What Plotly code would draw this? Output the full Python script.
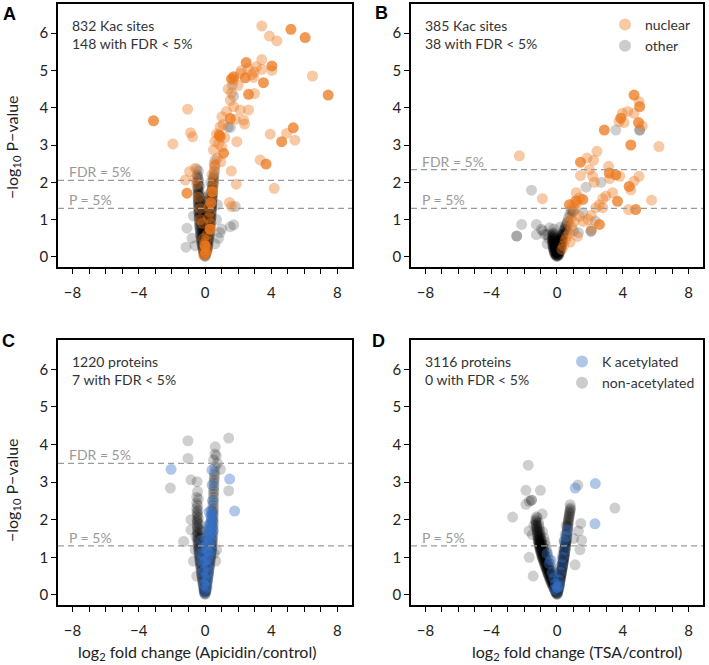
import plotly.graph_objects as go

# ---- panel A: Kac sites, Apicidin ----
a_other = [
    (-0.02, 0.02), (0.03, 0.02), (-0.06, 0.08), (0.05, 0.08), (-0.08, 0.14), (0.02, 0.14), (0.09, 0.14),
    (-0.12, 0.2), (0.0, 0.2), (0.12, 0.2), (-0.14, 0.26), (0.04, 0.26), (0.15, 0.26),
    (-0.17, 0.32), (-0.03, 0.32), (0.16, 0.32), (-0.2, 0.38), (0.05, 0.38), (0.2, 0.38),
    (-0.22, 0.44), (-0.06, 0.44), (0.19, 0.44), (-0.25, 0.5), (0.02, 0.5), (0.23, 0.5),
    (-0.24, 0.56), (-0.08, 0.56), (0.1, 0.56), (0.26, 0.56), (-0.28, 0.62), (0.0, 0.62), (0.27, 0.62),
    (-0.27, 0.68), (-0.1, 0.68), (0.12, 0.68), (0.3, 0.68), (-0.3, 0.74), (0.02, 0.74), (0.29, 0.74),
    (-0.31, 0.8), (-0.12, 0.8), (0.15, 0.8), (0.32, 0.8), (-0.33, 0.86), (0.0, 0.86), (0.31, 0.86),
    (-0.3, 0.92), (-0.14, 0.92), (0.12, 0.92), (0.34, 0.92), (-0.34, 0.98), (0.02, 0.98), (0.33, 0.98),
    (-0.36, 1.04), (-0.16, 1.04), (0.16, 1.04), (0.35, 1.04), (-0.33, 1.1), (0.0, 1.1), (0.37, 1.1),
    (-0.37, 1.16), (-0.18, 1.16), (0.18, 1.16), (0.36, 1.16), (-0.38, 1.22), (0.04, 1.22), (0.38, 1.22),
    (-0.36, 1.28), (-0.15, 1.28), (0.2, 1.28), (0.4, 1.28), (-0.4, 1.34), (0.39, 1.34),
    (-0.38, 1.4), (-0.2, 1.4), (0.22, 1.4), (0.41, 1.4), (-0.41, 1.46), (0.4, 1.46),
    (-0.39, 1.52), (-0.22, 1.52), (0.25, 1.52), (0.43, 1.52), (-0.42, 1.58), (0.42, 1.58),
    (-0.4, 1.64), (-0.25, 1.64), (0.44, 1.64), (-0.43, 1.7), (0.3, 1.7), (0.45, 1.7),
    (-0.41, 1.78), (0.46, 1.78), (-0.44, 1.86), (0.47, 1.86), (-0.42, 1.94), (0.5, 1.94),
    (-0.45, 2.02), (0.52, 2.02), (-0.43, 2.1), (0.5, 2.1), (-0.46, 2.2), (0.55, 2.2),
    (-0.4, 2.3), (0.58, 2.3), (0.6, 2.45), (0.62, 2.6),
    (-0.05, 0.45), (0.08, 0.65), (-0.06, 0.85), (0.06, 1.0), (-0.08, 1.2), (0.1, 1.35), (-0.1, 1.5),
    (0.12, 1.6), (-0.3, 1.9), (0.35, 2.0), (-0.15, 0.6), (0.18, 0.9), (-0.2, 1.1), (0.25, 1.25),
    (0.0, 0.05), (-0.04, 0.11), (0.06, 0.11), (-0.1, 0.17), (0.08, 0.17), (-0.13, 0.23), (0.06, 0.23),
    (0.14, 0.23), (-0.1, 0.29), (0.1, 0.29), (-0.18, 0.35), (0.0, 0.35), (0.18, 0.35), (-0.14, 0.41),
    (0.1, 0.41), (-0.2, 0.47), (0.0, 0.47), (0.21, 0.47), (-0.15, 0.53), (0.14, 0.53), (-0.26, 0.59),
    (0.05, 0.59), (0.24, 0.59), (-0.18, 0.65), (0.18, 0.65), (-0.28, 0.71), (-0.04, 0.71), (0.28, 0.71),
    (-0.2, 0.77), (0.2, 0.77), (-0.32, 0.83), (0.05, 0.83), (0.3, 0.83), (-0.22, 0.89), (0.22, 0.89),
    (-0.32, 0.95), (-0.05, 0.95), (0.32, 0.95), (-0.25, 1.01), (0.25, 1.01), (-0.35, 1.07), (0.08, 1.07),
    (0.36, 1.07), (-0.26, 1.13), (0.27, 1.13), (-0.36, 1.19), (-0.06, 1.19), (0.37, 1.19), (-0.28, 1.25),
    (0.3, 1.25), (-0.38, 1.31), (0.1, 1.31), (0.4, 1.31), (-0.3, 1.37), (0.32, 1.37), (-0.4, 1.43),
    (0.42, 1.43), (-0.32, 1.49), (0.34, 1.49), (-0.41, 1.55), (0.43, 1.55), (-0.34, 1.61), (0.36, 1.61),
    (-0.42, 1.67), (0.44, 1.67), (-0.36, 1.74), (0.38, 1.74), (-0.43, 1.82), (0.45, 1.82), (-0.38, 1.9),
    (0.42, 1.9), (-0.44, 1.98), (0.48, 1.98), (-0.4, 2.06), (0.5, 2.06), (-0.44, 2.15), (0.52, 2.15),
    (1.53, 0.81), (1.73, 0.86), (-1.09, 0.77), (-0.79, 0.5), (-1.15, 0.26), (0.82, 0.5), (1.83, 1.35),
    (1.73, 4.31), (1.4, 3.48), (1.53, 3.47), (0.9, 0.65), (-0.7, 1.1), (0.7, 1.0), (-0.6, 0.3),
    (0.6, 0.35), (1.0, 0.75), (-0.5, 2.35), (0.75, 1.4), (1.65, 4.6),
]
a_nuclear = [
    (0.0, 0.05), (0.02, 0.12), (-0.03, 0.2), (0.05, 0.28), (-0.05, 0.35), (0.08, 0.45), (-0.08, 0.5),
    (0.12, 0.6), (0.3, 0.75), (0.35, 0.9), (-0.15, 0.9), (0.2, 1.05), (-0.3, 1.3), (0.25, 1.35),
    (0.35, 1.55), (-0.4, 1.6), (0.4, 1.75), (0.45, 1.9), (-0.5, 1.95), (0.5, 2.05), (0.42, 2.2),
    (-0.6, 2.1), (0.55, 2.3), (0.6, 2.45), (-0.3, 1.0), (0.15, 0.2), (-0.1, 0.05), (0.3, 1.2),
    (0.51, 2.87), (1.02, 2.95), (0.82, 3.04), (0.92, 3.49), (1.02, 3.76), (1.83, 3.69), (2.33, 3.67),
    (2.39, 3.56), (1.92, 3.09), (1.73, 4.03), (2.13, 3.94), (2.63, 3.94), (1.53, 4.2), (2.99, 4.38),
    (1.73, 4.74), (2.93, 4.81), (2.83, 4.88), (2.13, 4.92), (2.97, 4.96), (3.43, 5.03), (4.04, 5.0),
    (3.1, 5.1), (3.43, 5.29), (6.49, 4.85), (3.43, 6.19), (3.89, 5.92), (4.34, 5.79), (-1.05, 3.96),
    (-0.87, 3.33), (-0.75, 3.22), (-1.94, 3.03), (3.94, 3.29), (4.93, 3.31), (5.43, 3.13), (3.33, 2.6),
    (4.18, 1.84), (1.89, 1.95), (1.59, 2.3), (-0.59, 2.38), (-0.93, 2.29), (-1.19, 2.06), (1.48, 1.46),
    (1.6, 1.35), (0.6, 3.1), (0.7, 3.3), (0.75, 2.65), (1.2, 3.2), (1.3, 3.9), (1.1, 3.55), (1.4, 4.5),
    (1.6, 4.4), (2.0, 4.6), (2.6, 5.05), (2.2, 5.0), (0.95, 2.55), (0.55, 2.5),
]
a_nuclear_dark = [
    (5.19, 6.1), (6.05, 5.88), (1.73, 4.83), (2.49, 5.21), (4.04, 5.12), (1.53, 3.71), (2.43, 4.8),
    (3.53, 4.67), (7.44, 4.34), (-3.11, 3.65), (0.92, 3.22), (1.12, 2.78), (5.33, 3.46), (4.63, 3.09),
    (3.69, 2.49), (-1.09, 1.71), (0.31, 0.74), (2.63, 4.36), (0.86, 3.27), (1.6, 4.77), (0.05, 0.1),
    (0.0, 0.3), (0.45, 1.75), (0.35, 1.45),
]

# ---- panel B: Kac sites, TSA ----
b_other = [
    (-0.05, 0.02), (0.0, 0.02), (0.05, 0.02), (-0.1, 0.06), (-0.03, 0.06), (0.03, 0.06), (0.1, 0.06),
    (-0.14, 0.1), (-0.05, 0.1), (0.05, 0.1), (0.14, 0.1), (-0.17, 0.14), (-0.08, 0.14), (0.0, 0.14),
    (0.08, 0.14), (0.17, 0.14), (-0.2, 0.18), (-0.1, 0.18), (0.02, 0.18), (0.12, 0.18), (0.2, 0.18),
    (-0.22, 0.22), (-0.12, 0.22), (0.0, 0.22), (0.12, 0.22), (0.22, 0.22), (-0.24, 0.26), (-0.14, 0.26),
    (0.02, 0.26), (0.15, 0.26), (0.25, 0.26), (-0.25, 0.3), (-0.12, 0.3), (0.0, 0.3), (0.14, 0.3),
    (0.27, 0.3), (-0.26, 0.34), (-0.15, 0.34), (0.18, 0.34), (0.28, 0.34), (-0.27, 0.38), (-0.1, 0.38),
    (0.2, 0.38), (0.3, 0.38), (-0.28, 0.42), (-0.18, 0.42), (0.22, 0.42), (0.32, 0.42), (-0.27, 0.46),
    (-0.12, 0.46), (0.18, 0.46), (0.33, 0.46), (-0.28, 0.5), (-0.2, 0.5), (0.24, 0.5), (0.34, 0.5),
    (-0.27, 0.55), (-0.16, 0.55), (0.28, 0.55), (0.36, 0.55), (-0.26, 0.6), (0.3, 0.6), (0.38, 0.6),
    (-0.25, 0.65), (0.4, 0.65), (0.42, 0.7),
    (-0.02, 0.04), (0.07, 0.04), (-0.12, 0.08), (0.12, 0.08), (-0.06, 0.12), (0.04, 0.12), (-0.16, 0.16),
    (0.16, 0.16), (-0.05, 0.2), (0.06, 0.2), (-0.2, 0.24), (-0.06, 0.24), (0.07, 0.24), (0.2, 0.24),
    (-0.18, 0.28), (0.2, 0.28), (-0.06, 0.32), (0.08, 0.32), (-0.22, 0.36), (0.24, 0.36), (-0.2, 0.4),
    (0.0, 0.4), (0.26, 0.4), (-0.24, 0.44), (0.28, 0.44), (-0.22, 0.48), (0.3, 0.48), (-0.24, 0.52),
    (0.3, 0.52), (-0.22, 0.58), (0.34, 0.58), (-0.2, 0.62), (0.36, 0.62), (0.45, 0.75), (0.52, 0.8),
    (0.6, 0.9),
    (0.5, 0.75), (0.55, 0.85), (0.65, 0.95), (0.7, 1.05), (0.8, 1.15), (0.85, 1.25), (0.95, 1.2),
    (0.6, 0.7), (1.0, 1.23), (1.57, 1.18), (1.0, 0.7), (1.3, 0.65), (-0.5, 0.5), (-0.6, 0.6),
    (-0.44, 0.78), (-0.95, 0.74), (-1.25, 0.87), (-1.25, 0.6), (-0.74, 0.6), (-2.15, 0.87),
    (-2.45, 0.56), (-2.45, 0.56), (-1.55, 1.79), (2.33, 0.96), (2.07, 0.69), (2.07, 0.69),
    (1.77, 1.87), (2.68, 2.0), (5.03, 3.4), (5.03, 3.4), (3.58, 3.4), (-0.85, 0.7), (-0.2, 0.75),
    (-0.6, 0.35), (0.2, 0.8),
]
b_nuclear = [
    (4.99, 4.16), (3.98, 3.85), (4.08, 3.6), (3.78, 3.63), (4.69, 3.85), (5.19, 3.51), (6.2, 2.96),
    (-2.29, 2.71), (2.43, 2.83), (1.83, 2.65), (2.23, 2.59), (3.14, 2.43), (1.97, 2.34), (1.43, 2.18),
    (2.17, 2.16), (3.82, 2.16), (4.99, 2.16), (2.27, 2.0), (4.49, 1.8), (4.69, 2.03), (-0.89, 1.56),
    (1.17, 1.72), (1.37, 1.58), (2.78, 1.56), (2.98, 1.63), (3.38, 1.72), (2.58, 1.4), (2.37, 1.32),
    (2.78, 1.32), (5.75, 1.52), (4.35, 1.27), (2.07, 1.11), (0.76, 0.65), (1.37, 1.09), (3.2, 2.1),
    (4.3, 3.9), (0.7, 0.9), (0.85, 1.05), (0.9, 0.8), (0.6, 0.55), (0.5, 0.45), (0.4, 0.3), (0.3, 0.2),
    (1.1, 1.3), (1.2, 1.45), (1.05, 0.95), (0.95, 1.35), (1.25, 0.55), (0.8, 0.4), (1.6, 0.95),
    (2.1, 0.75), (1.9, 1.0),
]
b_nuclear_dark = [
    (4.69, 4.34), (5.03, 4.03), (3.88, 3.72), (4.96, 3.6), (2.88, 3.4), (4.49, 3.0), (1.43, 2.54),
    (3.18, 2.25), (3.58, 2.2), (4.39, 1.89), (1.57, 1.54), (0.76, 1.4), (3.68, 1.49), (4.79, 1.27),
    (2.58, 0.87), (1.15, 1.5),
]

# ---- panel C: proteins, Apicidin ----
c_other = [
    (-0.02, 0.02), (0.02, 0.02), (-0.05, 0.08), (0.0, 0.08), (0.05, 0.08), (-0.07, 0.14), (0.03, 0.14),
    (0.07, 0.14), (-0.09, 0.2), (-0.02, 0.2), (0.09, 0.2), (-0.11, 0.26), (0.02, 0.26), (0.11, 0.26),
    (-0.13, 0.32), (-0.03, 0.32), (0.13, 0.32), (-0.15, 0.38), (0.03, 0.38), (0.15, 0.38),
    (-0.17, 0.44), (-0.04, 0.44), (0.17, 0.44), (-0.19, 0.5), (0.04, 0.5), (0.19, 0.5),
    (-0.21, 0.56), (-0.05, 0.56), (0.21, 0.56), (-0.22, 0.62), (0.05, 0.62), (0.23, 0.62),
    (-0.24, 0.68), (-0.06, 0.68), (0.25, 0.68), (-0.26, 0.74), (0.06, 0.74), (0.27, 0.74),
    (-0.28, 0.8), (-0.08, 0.8), (0.29, 0.8), (-0.3, 0.86), (0.08, 0.86), (0.3, 0.86),
    (-0.32, 0.92), (-0.1, 0.92), (0.32, 0.92), (-0.33, 0.98), (0.1, 0.98), (0.34, 0.98),
    (-0.35, 1.04), (-0.12, 1.04), (0.36, 1.04), (-0.36, 1.1), (0.12, 1.1), (0.37, 1.1),
    (-0.38, 1.16), (-0.14, 1.16), (0.39, 1.16), (-0.39, 1.22), (0.14, 1.22), (0.4, 1.22),
    (-0.41, 1.28), (-0.15, 1.28), (0.42, 1.28), (-0.42, 1.34), (0.15, 1.34), (0.43, 1.34),
    (-0.43, 1.4), (-0.16, 1.4), (0.44, 1.4), (-0.44, 1.46), (0.16, 1.46), (0.45, 1.46),
    (-0.45, 1.52), (-0.17, 1.52), (0.46, 1.52), (-0.45, 1.6), (0.18, 1.6), (0.47, 1.6),
    (-0.46, 1.68), (-0.18, 1.68), (0.48, 1.68), (-0.46, 1.76), (0.2, 1.76), (0.48, 1.76),
    (-0.47, 1.84), (0.49, 1.84), (-0.47, 1.92), (0.5, 1.92), (-0.48, 2.0), (0.5, 2.0),
    (-0.48, 2.1), (0.5, 2.1), (-0.49, 2.2), (0.51, 2.2), (-0.5, 2.3), (0.52, 2.3), (-0.5, 2.45),
    (0.52, 2.45), (-0.5, 2.6), (0.53, 2.6), (0.54, 2.75), (0.55, 2.9), (0.56, 3.05), (0.58, 3.2),
    (0.6, 3.4),
    (0.0, 0.05), (-0.03, 0.11), (0.04, 0.11), (-0.06, 0.17), (0.06, 0.17), (0.0, 0.23), (-0.1, 0.29),
    (0.1, 0.29), (0.0, 0.35), (-0.14, 0.41), (0.14, 0.41), (0.0, 0.47), (-0.18, 0.53), (0.18, 0.53),
    (0.0, 0.59), (-0.2, 0.65), (0.2, 0.65), (0.0, 0.71), (-0.24, 0.77), (0.24, 0.77), (0.0, 0.83),
    (-0.27, 0.89), (0.27, 0.89), (0.0, 0.95), (-0.3, 1.01), (0.3, 1.01), (0.0, 1.07), (-0.33, 1.13),
    (0.33, 1.13), (0.0, 1.19), (-0.36, 1.25), (0.36, 1.25), (-0.05, 1.31), (-0.38, 1.37), (0.38, 1.37),
    (0.05, 1.43), (-0.4, 1.49), (0.4, 1.49), (-0.3, 1.56), (0.3, 1.56), (-0.42, 1.64), (0.42, 1.64),
    (-0.3, 1.72), (0.3, 1.72), (-0.43, 1.8), (0.44, 1.8), (-0.35, 1.88), (0.35, 1.88), (-0.44, 1.96),
    (0.45, 1.96), (-0.4, 2.05), (0.4, 2.05), (-0.45, 2.15), (0.47, 2.15), (-0.42, 2.25), (0.45, 2.25),
    (-0.45, 2.38), (0.48, 2.38), (0.5, 2.52), (0.5, 2.68), (0.52, 2.82), (0.53, 2.98), (0.55, 3.12),
    (0.57, 3.28),
    (-1.03, 4.1), (1.43, 4.17), (0.62, 3.94), (0.68, 3.7), (0.52, 3.59), (-1.03, 3.63), (0.93, 3.34),
    (-0.85, 3.06), (-0.48, 3.01), (-2.09, 2.84), (1.43, 2.77), (-0.85, 2.0), (-1.29, 1.42),
    (-0.85, 1.73), (-0.6, 1.2), (-0.7, 0.9), (-0.5, 0.5), (0.7, 1.2), (0.65, 0.9), (-0.4, 2.55),
    (-0.45, 2.75), (0.75, 3.5), (0.6, 3.75), (-0.55, 1.55), (0.55, 1.1),
]
c_acetyl = [
    (0.0, 0.05), (0.02, 0.15), (-0.03, 0.25), (0.05, 0.35), (-0.05, 0.45), (0.08, 0.55), (-0.08, 0.65),
    (0.1, 0.75), (-0.1, 0.85), (0.15, 0.95), (-0.12, 1.05), (0.18, 1.15), (-0.15, 1.25), (0.22, 1.35),
    (-0.2, 1.45), (0.25, 1.55), (0.3, 1.65), (0.32, 1.75), (0.35, 1.85), (0.38, 1.95), (0.4, 2.05),
    (0.42, 2.15), (0.36, 2.25), (0.45, 2.5), (0.43, 2.92), (0.25, 1.0), (0.3, 1.3), (0.2, 0.6),
    (-0.2, 0.9), (0.05, 1.5), (0.1, 1.2), (0.35, 1.45), (0.5, 1.7), (0.4, 1.2),
    (0.12, 0.2), (0.15, 0.4), (0.2, 0.8), (0.28, 1.1), (0.32, 1.5), (0.4, 1.6), (0.3, 1.9), (0.42, 1.8),
    (0.45, 2.0), (0.1, 1.7), (0.2, 1.85), (-0.1, 0.3), (-0.15, 0.6), (-0.25, 1.1), (0.0, 0.9),
    (0.05, 1.3), (0.35, 2.1), (0.25, 2.2),
    (-2.05, 3.34), (0.42, 3.32), (1.49, 3.08), (1.79, 2.23),
]

# ---- panel D: proteins, TSA ----
d_other = [
    (-0.03, 0.02), (0.0, 0.02), (0.03, 0.02), (-0.08, 0.07), (-0.02, 0.07), (0.05, 0.07),
    (-0.12, 0.12), (-0.05, 0.12), (0.02, 0.12), (0.08, 0.12), (-0.17, 0.17), (-0.08, 0.17), (0.1, 0.17),
    (-0.2, 0.22), (-0.12, 0.22), (0.0, 0.22), (0.12, 0.22), (-0.25, 0.27), (-0.15, 0.27), (0.14, 0.27),
    (-0.3, 0.32), (-0.2, 0.32), (-0.08, 0.32), (0.05, 0.32), (0.16, 0.32), (-0.35, 0.37), (-0.22, 0.37),
    (0.18, 0.37), (-0.4, 0.42), (-0.28, 0.42), (-0.15, 0.42), (0.2, 0.42), (-0.44, 0.47), (-0.3, 0.47),
    (0.12, 0.47), (0.22, 0.47), (-0.48, 0.52), (-0.35, 0.52), (-0.2, 0.52), (0.24, 0.52),
    (-0.52, 0.57), (-0.38, 0.57), (0.26, 0.57), (-0.56, 0.62), (-0.42, 0.62), (-0.28, 0.62),
    (0.18, 0.62), (0.28, 0.62), (-0.6, 0.67), (-0.45, 0.67), (0.3, 0.67), (-0.65, 0.72), (-0.5, 0.72),
    (-0.35, 0.72), (0.32, 0.72), (-0.68, 0.77), (-0.52, 0.77), (0.22, 0.77), (0.34, 0.77),
    (-0.72, 0.82), (-0.58, 0.82), (-0.42, 0.82), (0.36, 0.82), (-0.76, 0.87), (-0.6, 0.87), (0.38, 0.87),
    (-0.8, 0.92), (-0.65, 0.92), (-0.48, 0.92), (0.3, 0.92), (0.4, 0.92), (-0.84, 0.97), (-0.68, 0.97),
    (0.41, 0.97), (-0.88, 1.02), (-0.72, 1.02), (-0.55, 1.02), (0.43, 1.02), (-0.9, 1.07), (-0.75, 1.07),
    (0.35, 1.07), (0.44, 1.07), (-0.94, 1.12), (-0.78, 1.12), (-0.6, 1.12), (0.46, 1.12),
    (-0.97, 1.17), (-0.8, 1.17), (0.47, 1.17), (-1.0, 1.22), (-0.84, 1.22), (-0.65, 1.22), (0.4, 1.22),
    (0.49, 1.22), (-1.03, 1.27), (-0.86, 1.27), (0.5, 1.27), (-1.06, 1.32), (-0.9, 1.32), (-0.7, 1.32),
    (0.52, 1.32), (-1.08, 1.37), (-0.92, 1.37), (0.53, 1.37), (-1.1, 1.42), (-0.95, 1.42),
    (-0.75, 1.42), (0.45, 1.42), (0.55, 1.42), (-1.12, 1.47), (-0.97, 1.47), (0.56, 1.47),
    (-1.15, 1.52), (-1.0, 1.52), (-0.8, 1.52), (0.58, 1.52), (-1.18, 1.6), (-1.02, 1.6), (0.5, 1.6),
    (0.6, 1.6), (-1.2, 1.68), (-1.05, 1.68), (-0.88, 1.68), (0.62, 1.68), (-1.22, 1.76), (-1.08, 1.76),
    (0.64, 1.76), (-1.25, 1.84), (-1.1, 1.84), (0.56, 1.84), (0.66, 1.84), (-1.28, 1.92), (-1.12, 1.92),
    (0.68, 1.92), (-1.3, 2.0), (0.7, 2.0), (-1.25, 2.08), (0.73, 2.08), (0.76, 2.16), (0.8, 2.24),
    (0.82, 2.32),
    (-0.05, 0.05), (0.02, 0.05), (-0.1, 0.1), (0.04, 0.1), (-0.15, 0.15), (0.08, 0.15), (-0.22, 0.2),
    (-0.1, 0.2), (0.1, 0.2), (-0.28, 0.25), (-0.18, 0.25), (0.12, 0.25), (-0.32, 0.3), (-0.22, 0.3),
    (0.14, 0.3), (-0.38, 0.35), (-0.25, 0.35), (0.17, 0.35), (-0.42, 0.4), (-0.3, 0.4), (0.19, 0.4),
    (-0.46, 0.45), (-0.34, 0.45), (0.21, 0.45), (-0.5, 0.5), (-0.38, 0.5), (0.23, 0.5), (-0.55, 0.55),
    (-0.42, 0.55), (0.25, 0.55), (-0.58, 0.6), (-0.45, 0.6), (0.27, 0.6), (-0.62, 0.65), (-0.5, 0.65),
    (0.29, 0.65), (-0.66, 0.7), (-0.54, 0.7), (0.31, 0.7), (-0.7, 0.75), (-0.58, 0.75), (0.33, 0.75),
    (-0.74, 0.8), (-0.62, 0.8), (0.35, 0.8), (-0.78, 0.85), (-0.66, 0.85), (0.37, 0.85), (-0.82, 0.9),
    (-0.7, 0.9), (0.39, 0.9), (-0.86, 0.95), (-0.74, 0.95), (0.4, 0.95), (-0.9, 1.0), (-0.78, 1.0),
    (0.42, 1.0), (-0.93, 1.05), (-0.82, 1.05), (0.44, 1.05), (-0.96, 1.1), (-0.86, 1.1), (0.45, 1.1),
    (-1.0, 1.15), (-0.88, 1.15), (0.47, 1.15), (-1.02, 1.2), (-0.92, 1.2), (0.48, 1.2), (-1.05, 1.25),
    (-0.95, 1.25), (0.5, 1.25), (-1.08, 1.3), (-0.98, 1.3), (0.51, 1.3), (-1.1, 1.35), (-1.0, 1.35),
    (0.53, 1.35), (-1.12, 1.4), (-1.02, 1.4), (0.54, 1.4), (-1.15, 1.45), (-1.05, 1.45), (0.56, 1.45),
    (-1.17, 1.55), (-1.08, 1.55), (0.59, 1.55), (-1.2, 1.64), (-1.1, 1.64), (0.61, 1.64), (-1.22, 1.72),
    (0.63, 1.72), (-1.24, 1.8), (0.65, 1.8), (-1.26, 1.88), (0.67, 1.88), (-1.28, 1.96), (0.69, 1.96),
    (0.72, 2.04), (0.75, 2.12), (0.78, 2.2), (0.8, 2.28),
    (-1.75, 3.45), (-1.89, 2.78), (-1.01, 2.78), (-1.55, 2.52), (-1.55, 2.52), (-1.69, 2.49),
    (-1.89, 2.41), (-2.7, 2.07), (-1.69, 1.0), (1.27, 2.92), (3.52, 2.31), (1.45, 1.9), (1.3, 1.7),
    (1.5, 1.45), (1.4, 1.2), (-1.5, 1.6), (-1.7, 1.7), (-1.4, 1.85), (-1.2, 2.05), (-0.9, 2.15),
    (1.0, 1.5), (1.1, 0.8), (-1.45, 0.5), (0.8, 2.4),
]
d_acetyl = [
    (1.11, 2.84), (2.33, 2.96), (2.31, 1.89), (-0.38, 0.93), (-0.48, 0.84), (-0.3, 0.6), (-0.2, 0.45),
    (-0.1, 0.3), (0.0, 0.1), (0.05, 0.2), (0.1, 0.4), (0.2, 0.6), (0.3, 0.8), (0.43, 1.43),
    (0.63, 1.73), (0.55, 1.55), (0.5, 1.2), (0.35, 1.0), (-0.6, 1.1), (0.0, 0.2), (-0.15, 0.15),
    (0.15, 0.25),
]

counts = [
    "832 Kac sites<br>148 with FDR &lt; 5%",
    "385 Kac sites<br>38 with FDR &lt; 5%",
    "1220 proteins<br>7 with FDR &lt; 5%",
    "3116 proteins<br>0 with FDR &lt; 5%",
]
fdr_lines = [2.05, 2.34, 3.5, None]
p_line = 1.301
x_ticks = list(range(-8, 9))
x_ticktext = ["−8" if v == -8 else "−4" if v == -4 else str(v) if v in (0, 4, 8) else "" for v in x_ticks]
y_ticks = [0, 1, 2, 3, 4, 5, 6]

FONT = "Lato, Open Sans, sans-serif"
ORANGE = "rgb(236,120,30)"
GRAY = "rgb(0,0,0)"
BLUE = "rgb(55,115,200)"

fig = go.Figure()


def add_points(pts, color, opacity, n, name=None, legend=None, rank=None):
    fig.add_trace(go.Scatter(
        x=[p[0] for p in pts], y=[p[1] for p in pts], mode="markers",
        marker=dict(size=11, color=color, opacity=opacity, line=dict(width=0)),
        xaxis="x" + n, yaxis="y" + n, name=name, showlegend=name is not None,
        legend=legend, legendrank=rank, hoverinfo="skip"))


add_points(a_other, GRAY, 0.19, "")
add_points(a_nuclear, ORANGE, 0.4, "")
add_points(a_nuclear_dark, ORANGE, 0.75, "")
add_points(b_other, GRAY, 0.19, "2", "other", "legend", 2)
add_points(b_nuclear, ORANGE, 0.4, "2", "nuclear", "legend", 1)
add_points(b_nuclear_dark, ORANGE, 0.75, "2")
add_points(c_other, GRAY, 0.19, "3")
add_points(c_acetyl, BLUE, 0.4, "3")
add_points(d_other, GRAY, 0.19, "4", "non-acetylated", "legend2", 2)
add_points(d_acetyl, BLUE, 0.4, "4", "K acetylated", "legend2", 1)

x_domains = [[0.0818, 0.4965], [0.5797, 0.9915], [0.0818, 0.4965], [0.5797, 0.9915]]
y_domains = [[0.5985, 0.994], [0.5985, 0.994], [0.0902, 0.4887], [0.0902, 0.4887]]

axis_common = dict(showline=True, mirror=True, linecolor="black", linewidth=1.5, ticks="outside",
                   ticklen=5, tickwidth=1.3, tickcolor="black", showgrid=False, zeroline=False,
                   tickfont=dict(size=15, color="#222", family=FONT))

layout_axes = {}
annotations = []
shapes = []
for i in range(4):
    n = "" if i == 0 else str(i + 1)
    layout_axes["xaxis" + n] = dict(axis_common, domain=x_domains[i], anchor="y" + n, range=[-8.88, 8.88],
                                    tickmode="array", tickvals=x_ticks, ticktext=x_ticktext,
                                    ticklabelstandoff=6)
    layout_axes["yaxis" + n] = dict(axis_common, domain=y_domains[i], anchor="x" + n, range=[-0.27, 6.78],
                                    tickmode="array", tickvals=y_ticks)
    annotations.append(dict(text=counts[i], xref="x" + n + " domain", yref="y" + n + " domain",
                            x=0.04, y=0.958, xanchor="left", yanchor="top", align="left", showarrow=False,
                            font=dict(size=14, color="#333", family=FONT)))
    lines = [(p_line, "P = 5%")]
    if fdr_lines[i] is not None:
        lines.append((fdr_lines[i], "FDR = 5%"))
    for val, label in lines:
        shapes.append(dict(type="line", xref="x" + n + " domain", yref="y" + n, x0=0, x1=1, y0=val, y1=val,
                           line=dict(color="#9a9a9a", width=1.3, dash="6px,4px")))
        annotations.append(dict(text=label, xref="x" + n + " domain", yref="y" + n, x=0.03, y=val,
                                xanchor="left", yanchor="bottom", yshift=-2, showarrow=False,
                                font=dict(size=14, color="#999", family=FONT)))

for letter, lx, ly in [("A", 9, 14), ("B", 381, 13), ("C", 8, 341), ("D", 379, 341)]:
    annotations.append(dict(text="<b>" + letter + "</b>", xref="paper", yref="paper", x=lx / 709,
                            y=1 - ly / 665, xanchor="center", yanchor="middle", showarrow=False,
                            font=dict(size=18, color="black", family="Liberation Sans, Arial")))

for ty in [147, 490]:
    annotations.append(dict(text="−log<sub>10</sub> P−value", xref="paper", yref="paper", x=12 / 709,
                            y=1 - ty / 665, textangle=-90, xanchor="center", yanchor="middle",
                            showarrow=False, font=dict(size=16, color="#222", family=FONT)))

for tx, label in [(197, "log<sub>2</sub> fold change (Apicidin/control)"),
                  (577, "log<sub>2</sub> fold change (TSA/control)")]:
    annotations.append(dict(text=label, xref="paper", yref="paper", x=tx / 709, y=1 - 652 / 665,
                            xanchor="center", yanchor="middle", showarrow=False,
                            font=dict(size=16, color="#222", family=FONT)))

legend_style = dict(xanchor="left", yanchor="top", font=dict(size=14, color="#333", family=FONT),
                    bgcolor="rgba(0,0,0,0)", tracegroupgap=0, itemsizing="constant")

fig.update_layout(
    width=709, height=665,
    margin=dict(l=0, r=0, t=0, b=0),
    plot_bgcolor="white", paper_bgcolor="white",
    font=dict(family=FONT),
    annotations=annotations, shapes=shapes,
    legend=dict(legend_style, x=605 / 709, y=1 - 9 / 665),
    legend2=dict(legend_style, x=562 / 709, y=1 - 346 / 665),
    **layout_axes,
)

# page body has a default 8px margin; drop it so the figure sits at the window corner
fig.write_html("out.html", config={"displayModeBar": False},
               post_script="document.body.style.margin = '0';")
